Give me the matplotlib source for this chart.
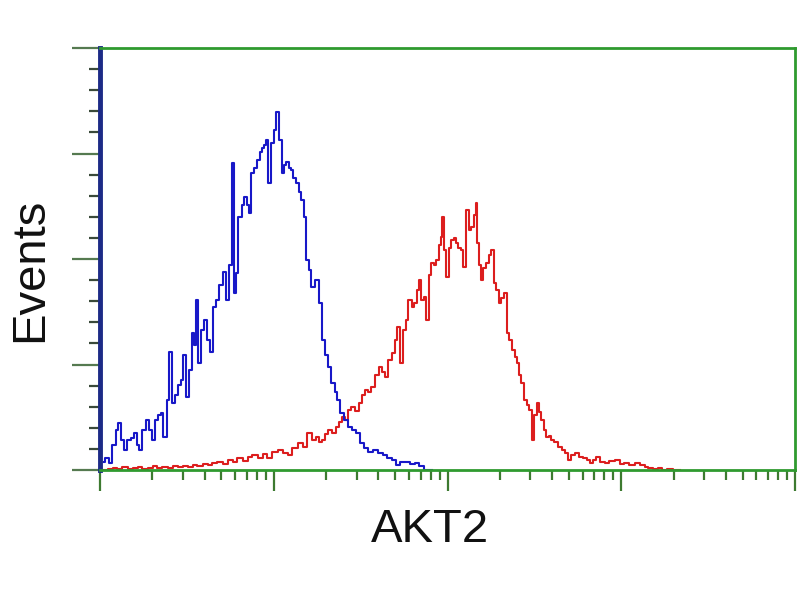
import numpy as np
import matplotlib
matplotlib.use("Agg")
import matplotlib.pyplot as plt
from matplotlib.ticker import FixedLocator, NullFormatter, LogLocator

# Flow cytometry histogram data: channel (1024 channels over 4 log decades) and event counts
blue_ch = [6, 10, 15, 21, 25, 29, 34, 37, 43, 47,
           52, 56, 59, 65, 71, 74, 78, 84, 88, 91,
           96, 100, 103, 108, 113, 118, 121, 125, 128, 133,
           137, 140, 143, 147, 152, 155, 159, 165, 169, 174,
           178, 183, 187, 192, 196, 199, 202, 206, 211, 214,
           218, 221, 225, 230, 233, 237, 240, 243, 246, 250,
           255, 258, 261, 265, 270, 273, 276, 280, 283, 287,
           290, 295, 298, 302, 306, 309, 314, 320, 324, 329,
           334, 339, 343, 348, 351, 357, 362, 368, 374, 379,
           386, 392, 398, 405, 413, 420, 427, 433, 438, 445,
           452, 460, 467, 474, 482, 489]
blue_cnt = [8, 12, 7, 25, 40, 47, 30, 20, 30, 32,
            37, 25, 20, 40, 50, 40, 30, 50, 55, 57,
            33, 70, 118, 67, 75, 85, 90, 115, 73, 100,
            137, 125, 170, 107, 140, 150, 130, 118, 163, 170,
            185, 198, 170, 205, 307, 177, 197, 253, 265, 273,
            265, 257, 297, 302, 310, 318, 322, 325, 330, 287,
            327, 340, 358, 330, 297, 305, 308, 302, 300, 292,
            287, 278, 270, 253, 210, 200, 183, 190, 167, 130,
            115, 103, 87, 78, 70, 57, 50, 43, 40, 37,
            27, 22, 18, 20, 17, 15, 12, 10, 5, 8,
            8, 6, 7, 4, 0, 0]

red_ch = [0, 7, 15, 22, 29, 37, 44, 52, 59, 66,
          74, 81, 88, 96, 103, 111, 118, 125, 133, 140,
          147, 155, 162, 169, 177, 184, 192, 199, 206, 214,
          221, 228, 236, 243, 250, 258, 265, 273, 280, 287,
          295, 302, 309, 315, 320, 324, 329, 334, 339, 345,
          349, 354, 358, 364, 368, 373, 379, 383, 389, 393,
          398, 402, 408, 413, 418, 423, 427, 432, 436, 439,
          445, 449, 452, 457, 461, 464, 469, 471, 476, 479,
          483, 486, 489, 494, 497, 501, 504, 505, 508, 511,
          516, 519, 523, 526, 530, 533, 538, 541, 545, 548,
          553, 555, 557, 560, 563, 567, 570, 575, 578, 582,
          586, 589, 594, 597, 601, 604, 609, 613, 616, 619,
          622, 626, 631, 634, 638, 642, 645, 648, 651, 656,
          659, 663, 667, 672, 678, 682, 688, 692, 697, 703,
          709, 715, 720, 725, 729, 734, 740, 747, 754, 762,
          769, 776, 784, 791, 800, 806, 810, 818, 825, 832,
          840, 847, 855]
red_cnt = [0, 0, 1, 2, 1, 3, 1, 2, 3, 1,
           2, 4, 2, 3, 2, 4, 3, 4, 3, 5,
           4, 6, 5, 7, 8, 6, 10, 8, 12, 9,
           13, 15, 12, 16, 12, 18, 20, 17, 15, 22,
           27, 23, 37, 30, 33, 28, 30, 36, 40, 37,
           43, 48, 53, 50, 60, 63, 59, 67, 75, 80,
           78, 83, 95, 103, 98, 93, 110, 117, 130, 143,
           107, 140, 150, 170, 163, 167, 180, 190, 170, 173,
           150, 195, 207, 205, 210, 225, 233, 253, 220, 193,
           222, 230, 232, 227, 222, 220, 203, 260, 240, 243,
           255, 267, 227, 205, 190, 202, 207, 215, 220, 187,
           180, 167, 172, 177, 137, 130, 120, 113, 107, 95,
           87, 70, 65, 60, 30, 55, 67, 58, 50, 40,
           33, 34, 30, 28, 23, 20, 17, 10, 15, 17,
           13, 12, 10, 7, 10, 13, 8, 7, 9, 10,
           6, 7, 5, 7, 5, 3, 2, 1, 2, 0,
           1, 0, 0]

CH_PER_DECADE = 256.0
x_blue = 10 ** (np.array(blue_ch) / CH_PER_DECADE)
x_red = 10 ** (np.array(red_ch) / CH_PER_DECADE)

fig = plt.figure(figsize=(8, 6), dpi=100)
ax = fig.add_axes([100/800, 130/600, 695/800, 422/600])

ax.plot(x_red, red_cnt, drawstyle='steps-mid', color='#dc1e1e', lw=1.5)
ax.plot(x_blue, blue_cnt, drawstyle='steps-mid', color='#1818c8', lw=1.5)

ax.set_xscale('log')
ax.set_xlim(1, 1e4)
ax.set_ylim(0, 422)

green = '#2f9a2f'
for s in ['top', 'right', 'bottom']:
    ax.spines[s].set_color(green)
    ax.spines[s].set_linewidth(2.0)
ax.spines['left'].set_color('#1c2a86')
ax.spines['left'].set_linewidth(3.5)

ax.xaxis.set_major_locator(FixedLocator([1, 10, 100, 1000, 10000]))
ax.xaxis.set_minor_locator(LogLocator(base=10, subs=np.arange(2, 10), numticks=20))
ax.xaxis.set_major_formatter(NullFormatter())
ax.xaxis.set_minor_formatter(NullFormatter())
ax.tick_params(axis='x', which='major', direction='out', length=15, width=1.6, color='#3d7a30')
ax.tick_params(axis='x', which='minor', direction='out', length=7, width=1.6, color='#3d7a30')

ax.yaxis.set_major_locator(FixedLocator([0, 105.5, 211, 316.5, 422]))
ax.yaxis.set_minor_locator(FixedLocator(np.arange(0, 423, 21.1)))
ax.yaxis.set_major_formatter(NullFormatter())
ax.tick_params(axis='y', which='major', direction='out', length=20, width=1.6, color='#557a50')
ax.tick_params(axis='y', which='minor', direction='out', length=8, width=1.6, color='#3a4a3a')

fig.text(30/800, 1 - 270/600, 'Events', rotation=90, ha='center', va='center',
         fontsize=34, family=['Liberation Sans', 'DejaVu Sans'], color='#111111')
fig.text(430/800, 1 - 530/600, 'AKT2', ha='center', va='center',
         fontsize=34, family=['Liberation Sans', 'DejaVu Sans'], color='#111111')

fig.savefig('out.png', dpi=100, facecolor='white')
